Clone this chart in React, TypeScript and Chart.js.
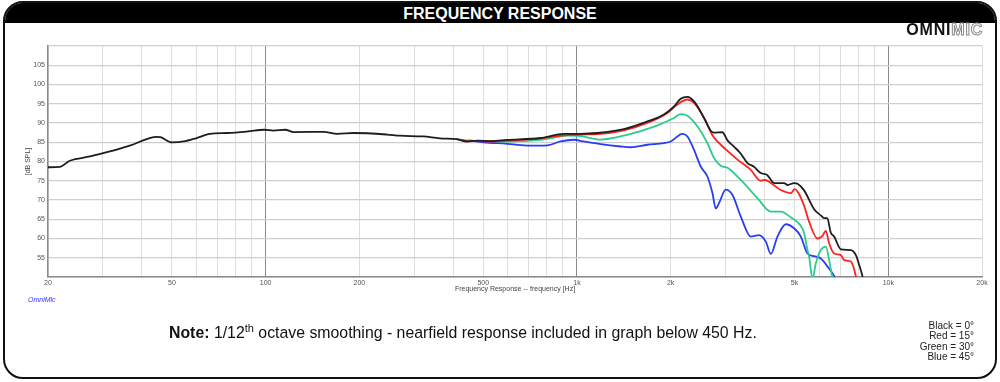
import React, { useEffect, useRef } from 'react';
import { Chart, registerables } from 'chart.js';

Chart.register(...registerables);

const FONT = '"Liberation Sans", Arial, Helvetica, sans-serif';

// ---- data (frequency in Hz, level in dB SPL) ----
const blackFreq = [20, 21.8, 23.5, 27.3, 31.6, 36.6, 41.5, 44.2, 45.9, 50, 54.6, 60, 66.3, 75.5, 87.7, 98.9, 106, 115.7, 122.9, 153.6, 169.8, 191.6, 245.6, 270, 321, 363, 410, 444, 479, 530, 597, 764, 908, 1027, 1163, 1415, 1683, 1903, 2050, 2154, 2264, 2378, 2560, 2690, 2756, 2930, 3044, 3200, 3346, 3530, 3696, 3894, 4082, 4298, 4406, 4627, 4746, 4984, 5111, 5366, 5778, 6071, 6221, 6367, 6538, 6700, 7043, 7584, 7870, 8066, 8270, 8400];
const blackDb = [78.5, 78.6, 80.2, 81.3, 82.6, 84.1, 85.8, 86.4, 86.3, 84.95, 85.2, 86.1, 87.2, 87.4, 87.8, 88.25, 88.0, 88.25, 87.65, 87.7, 87.2, 87.4, 87.0, 86.7, 86.5, 86.0, 85.8, 85.2, 85.4, 85.3, 85.6, 86.1, 87.2, 87.2, 87.4, 88.4, 90.4, 92.2, 94.3, 96.3, 96.8, 95.6, 91.3, 88.0, 87.5, 87.6, 85.5, 83.8, 82.2, 79.6, 78.7, 77.0, 76.5, 74.4, 74.4, 74.4, 73.9, 74.4, 74.2, 72.5, 67.6, 66.0, 65.3, 65.3, 61.5, 60.5, 57.2, 57.0, 55.7, 53.1, 50.0, 47.0];

const redFreq = [410, 444, 479, 530, 597, 764, 908, 1027, 1163, 1415, 1683, 1952, 2102, 2264, 2378, 2560, 2724, 2826, 3000, 3278, 3600, 3894, 4000, 4515, 4864, 5000, 5111, 5366, 5560, 5924, 6148, 6302, 6457, 6700, 7043, 7216, 7584, 7870, 8000];
const redDb = [85.8, 85.3, 85.3, 85.2, 85.4, 86.0, 86.8, 87.0, 87.1, 88.1, 90.0, 92.6, 94.8, 96.1, 95.2, 91.3, 86.8, 85.2, 83.2, 80.5, 78.0, 75.0, 75.2, 72.6, 71.8, 72.8, 72.2, 68.5, 64.5, 60.0, 60.7, 62.0, 58.75, 56.1, 55.7, 54.4, 54.0, 50.2, 47.0];

const greenFreq = [410, 450, 597, 764, 940, 1027, 1191, 1460, 1780, 2050, 2154, 2264, 2440, 2624, 2756, 2896, 2968, 3044, 3360, 3800, 4194, 4515, 4864, 5236, 5366, 5502, 5568, 5710, 5850, 6071, 6302, 6457, 6622, 6800];
const greenDb = [85.8, 85.4, 85.2, 85.6, 86.7, 86.6, 85.7, 87.0, 89.1, 91.3, 92.3, 91.9, 89.1, 84.8, 80.9, 78.9, 78.6, 78.4, 75.2, 70.5, 67.0, 67.0, 65.5, 63.3, 61.4, 57.0, 55.3, 49.5, 53.5, 57.0, 57.9, 54.4, 49.5, 45.0];

const blueFreq = [450, 501, 597, 709, 803, 886, 978, 1052, 1191, 1381, 1487, 1683, 1903, 2000, 2182, 2264, 2378, 2498, 2624, 2724, 2791, 2860, 3006, 3159, 3360, 3617, 3845, 4042, 4194, 4406, 4686, 4984, 5236, 5502, 5778, 6071, 6382, 6700, 6900];
const blueDb = [85.5, 85.0, 84.6, 84.1, 84.2, 85.2, 85.65, 85.2, 84.5, 83.9, 83.7, 84.35, 84.8, 85.2, 87.2, 86.5, 83.0, 78.7, 76.1, 71.8, 67.8, 69.2, 72.7, 71.3, 65.7, 60.5, 60.9, 59.2, 56.0, 60.5, 63.7, 62.65, 60.5, 56.1, 55.4, 54.8, 52.7, 50.3, 48.0];

// ---- axes ----
const gridFreqs = [20, 30, 40, 50, 60, 70, 80, 90, 100, 200, 300, 400, 500, 600, 700, 800, 900, 1000, 2000, 3000, 4000, 5000, 6000, 7000, 8000, 9000, 10000, 20000];
const labelFreqs = [20, 50, 100, 200, 500, 1000, 2000, 5000, 10000, 20000];
const labelTexts = ['20', '50', '100', '200', '500', '1k', '2k', '5k', '10k', '20k'];
const majorFreqs = [100, 1000, 10000];
const hiddenDbLabels = [50, 110];

const legendLines = ['Black = 0°', 'Red = 15°', 'Green = 30°', 'Blue = 45°'];

export default function App() {
  const ref = useRef<HTMLCanvasElement>(null);

  useEffect(() => {
    const pts = (f: number[], d: number[]) => f.map((x, i) => ({ x, y: d[i] }));
    const common = { pointRadius: 0, borderWidth: 1.8, cubicInterpolationMode: 'monotone' as const, fill: false };
    const chart = new Chart(ref.current!, {
      type: 'line',
      data: {
        datasets: [
          { label: 'Black = 0°', data: pts(blackFreq, blackDb), borderColor: '#1e1e1e', ...common },
          { label: 'Red = 15°', data: pts(redFreq, redDb), borderColor: '#ff2020', ...common },
          { label: 'Green = 30°', data: pts(greenFreq, greenDb), borderColor: '#2fcb8a', ...common },
          { label: 'Blue = 45°', data: pts(blueFreq, blueDb), borderColor: '#2a3cf5', ...common },
        ],
      },
      options: {
        responsive: false,
        animation: false,
        layout: { padding: { left: 20, top: 46, right: 18, bottom: 85 } },
        plugins: { legend: { display: false }, tooltip: { enabled: false } },
        scales: {
          x: {
            type: 'logarithmic',
            min: 20,
            max: 20000,
            afterBuildTicks: (s: any) => {
              s.ticks = gridFreqs.map((v) => ({ value: v }));
            },
            afterFit: (s: any) => {
              s.height = 20;
            },
            ticks: {
              autoSkip: false,
              maxRotation: 0,
              padding: 2,
              color: '#555',
              font: { size: 7, family: FONT },
              callback: (v: any) => {
                const i = labelFreqs.indexOf(Number(v));
                return i >= 0 ? labelTexts[i] : '';
              },
            },
            grid: {
              drawTicks: false,
              color: (c: any) => (majorFreqs.includes(c.tick?.value) ? '#8a8a8a' : '#dedede'),
              lineWidth: 1,
            },
            border: { color: '#8a8a8a', width: 1.5 },
            title: {
              display: true,
              text: 'Frequency Response -- frequency [Hz]',
              color: '#444',
              font: { size: 7, family: FONT },
              padding: { top: 0, bottom: 4 },
            },
          },
          y: {
            min: 50,
            max: 110,
            afterFit: (s: any) => {
              s.width = 28;
            },
            ticks: {
              stepSize: 5,
              padding: 3,
              color: '#555',
              font: { size: 7, family: FONT },
              callback: (v: any) => (hiddenDbLabels.includes(Number(v)) ? '' : String(v)),
            },
            grid: { drawTicks: false, color: '#cfcfcf', lineWidth: 1.2 },
            border: { color: '#8a8a8a', width: 1.5 },
            title: {
              display: true,
              text: '[dB SPL]',
              color: '#444',
              font: { size: 7, family: FONT },
              padding: { top: 4, bottom: 0 },
            },
          },
        },
      },
    });
    return () => chart.destroy();
  }, []);

  return (
    <div style={{ position: 'absolute', left: 0, top: 0, width: 1000, height: 382, background: '#fff', fontFamily: FONT, overflow: 'hidden' }}>
      <canvas ref={ref} width={1000} height={382} style={{ position: 'absolute', left: 0, top: 0 }} />
      <div
        style={{
          position: 'absolute', left: 3, top: 1, width: 994, height: 378, boxSizing: 'border-box',
          border: '2.5px solid #111', borderRadius: 20, overflow: 'hidden', pointerEvents: 'none',
        }}
      >
        <div style={{ position: 'absolute', left: 0, top: 0, right: 0, height: 20, background: '#000', color: '#fff', fontWeight: 'bold', fontSize: 16, lineHeight: '21px', textAlign: 'center' }}>
          FREQUENCY RESPONSE
        </div>
      </div>
      <div style={{ position: 'absolute', right: 17, top: 21, fontSize: 16, fontWeight: 'bold', lineHeight: '18px', letterSpacing: 0.8, whiteSpace: 'nowrap' }}>
        <span style={{ color: '#111' }}>OMNI</span>
        <span style={{ color: '#fff', WebkitTextStroke: '1px #8a8a8a' } as any}>MIC</span>
      </div>
      <div style={{ position: 'absolute', left: 28, top: 296, fontSize: 7, fontStyle: 'italic', color: '#3535ff', lineHeight: '8px' }}>OmniMic</div>
      <div style={{ position: 'absolute', left: 169, top: 324, fontSize: 15.85, lineHeight: '18px', color: '#111', whiteSpace: 'nowrap' }}>
        <b>Note:</b> 1/12<sup style={{ fontSize: 11, lineHeight: 0 }}>th</sup> octave smoothing - nearfield response included in graph below 450 Hz.
      </div>
      <div style={{ position: 'absolute', right: 26, top: 321, fontSize: 10, lineHeight: '10.4px', color: '#222', textAlign: 'right', whiteSpace: 'nowrap' }}>
        {legendLines.map((t) => (
          <div key={t}>{t}</div>
        ))}
      </div>
    </div>
  );
}
